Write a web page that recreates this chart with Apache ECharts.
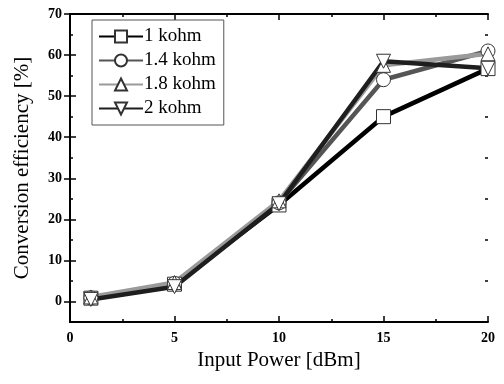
<!DOCTYPE html>
<html>
<head>
<meta charset="utf-8">
<script src="https://cdn.jsdelivr.net/npm/echarts@6/dist/echarts.min.js"></script>
<style>
html,body{margin:0;padding:0;background:#fff;}
#main{width:504px;height:384px;}
</style>
</head>
<body>
<div id="main"></div>
<script>
// 输入功率 (dBm)
var powerIn = [1, 5, 10, 15, 20];
var seriesNames = ['1 kohm', '1.4 kohm', '1.8 kohm', '2 kohm'];
var eff1k = [0.8, 4.2, 23.5, 45.0, 56.7];
var eff14k = [0.9, 4.4, 24.0, 54.0, 61.0];
var eff18k = [1.1, 4.6, 24.5, 57.5, 60.3];
var eff2k = [0.5, 3.6, 23.8, 58.5, 56.8];
var yMajor = [0, 10, 20, 30, 40, 50, 60, 70];
var yMinor = [-5, 5, 15, 25, 35, 45, 55, 65];

var serif = 'Liberation Serif';
function pairs(ys) {
    var out = [];
    for (var i = 0; i < powerIn.length; i++) {
        out.push([powerIn[i], ys[i]]);
    }
    return out;
}
function makeSeries(name, ys, color, symbol, rotate) {
    return {
        name: name,
        type: 'line',
        data: pairs(ys),
        symbol: symbol,
        symbolSize: 14,
        symbolRotate: rotate || 0,
        lineStyle: { color: color, width: 4.5 },
        itemStyle: { color: '#fff', borderColor: '#333', borderWidth: 1 },
        color: color,
        z: 3
    };
}
function yAx(pos, ticks, len, showLabel, showLine) {
    return {
        type: 'value', position: pos, min: -5, max: 70,
        axisLine: { show: showLine, lineStyle: { color: '#000', width: 2 } },
        axisTick: { show: true, inside: true, length: len, customValues: ticks, lineStyle: { color: '#000', width: 1.5 } },
        axisLabel: { show: showLabel, customValues: yMajor, margin: 8, fontFamily: serif, fontWeight: 'bold', fontSize: 14, color: '#000' },
        splitLine: { show: false }
    };
}

var chart = echarts.init(document.getElementById('main'));
var option = {
    animation: false,
    grid: { left: 70, right: 16, top: 14, bottom: 62, outerBoundsMode: 'none', containLabel: false },
    legend: {
        orient: 'vertical',
        left: 92, top: 20,
        padding: [7, 8, 7, 6],
        itemGap: 5,
        itemWidth: 44, itemHeight: 15,
        borderColor: '#555', borderWidth: 1,
        textStyle: { fontFamily: serif, fontSize: 19, color: '#000', padding: [0, 0, 0, -4] },
        data: seriesNames
    },
    xAxis: [
        {
            type: 'value', position: 'bottom', min: 0, max: 20, interval: 5,
            name: 'Input Power [dBm]', nameLocation: 'middle', nameGap: 25,
            nameTextStyle: { fontFamily: serif, fontSize: 21, color: '#000' },
            axisLine: { onZero: false, lineStyle: { color: '#000', width: 2 } },
            axisTick: { inside: true, length: 6, lineStyle: { color: '#000', width: 1.5 } },
            minorTick: { show: true, splitNumber: 2, length: 3, lineStyle: { color: '#000', width: 1.5 } },
            axisLabel: { margin: 9, fontFamily: serif, fontWeight: 'bold', fontSize: 14, color: '#000' },
            splitLine: { show: false }
        },
        {
            type: 'value', position: 'top', min: 0, max: 20, interval: 5,
            axisLine: { onZero: false, lineStyle: { color: '#000', width: 2 } },
            axisTick: { inside: true, length: 6, lineStyle: { color: '#000', width: 1.5 } },
            minorTick: { show: true, splitNumber: 2, length: 3, lineStyle: { color: '#000', width: 1.5 } },
            axisLabel: { show: false },
            splitLine: { show: false }
        }
    ],
    yAxis: [
        Object.assign(yAx('left', yMajor, 6, true, true), {
            name: 'Conversion efficiency [%]', nameLocation: 'middle', nameGap: 37,
            nameTextStyle: { fontFamily: serif, fontSize: 21, color: '#000' }
        }),
        yAx('right', yMajor, 6, false, true),
        yAx('left', yMinor, 3, false, false),
        yAx('right', yMinor, 3, false, false)
    ],
    series: [
        makeSeries(seriesNames[0], eff1k, '#000000', 'rect'),
        makeSeries(seriesNames[1], eff14k, '#555555', 'circle'),
        makeSeries(seriesNames[2], eff18k, '#9a9a9a', 'triangle'),
        makeSeries(seriesNames[3], eff2k, '#1e1e1e', 'triangle', 180)
    ]
};
chart.setOption(option);
</script>
</body>
</html>
